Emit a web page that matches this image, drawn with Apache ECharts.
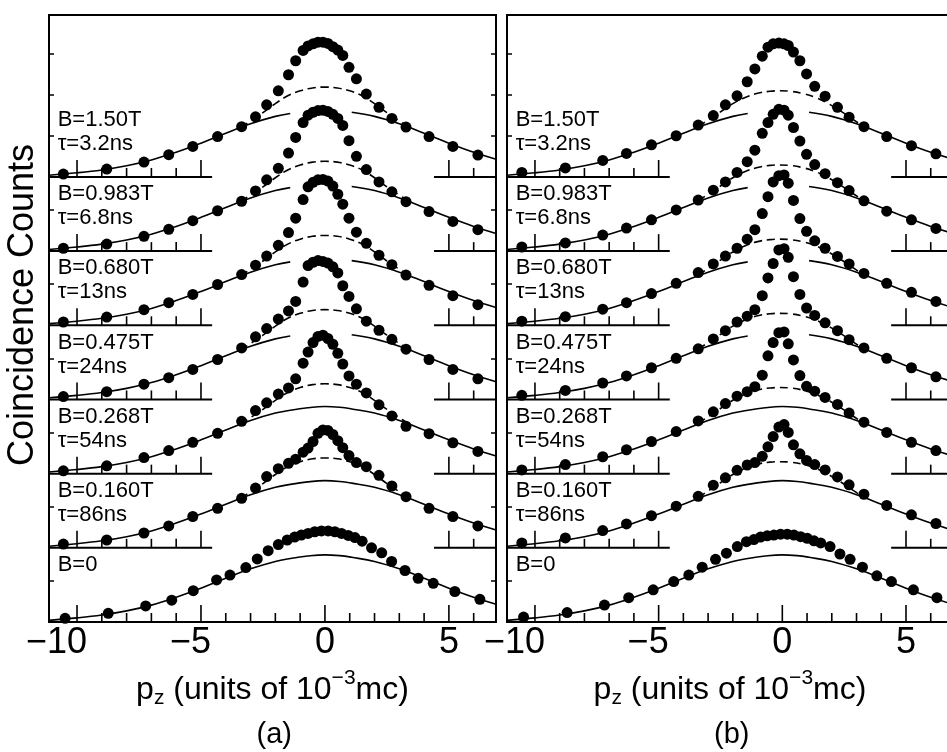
<!DOCTYPE html>
<html>
<head>
<meta charset="utf-8">
<script src="https://cdn.jsdelivr.net/npm/echarts@6/dist/echarts.min.js"></script>
<style>
html, body { margin: 0; padding: 0; background: #fff; }
#chart { width: 947px; height: 752px; }
</style>
</head>
<body>
<div id="chart"></div>
<script>
// curve labels, bottom to top
var fieldLabels = ['B=0', 'B=0.160T', 'B=0.268T', 'B=0.475T', 'B=0.680T', 'B=0.983T', 'B=1.50T'];
var tauLabels = ['', 'τ=86ns', 'τ=54ns', 'τ=24ns', 'τ=13ns', 'τ=6.8ns', 'τ=3.2ns'];

// x tick values (units of 10^-3 mc)
var majorTicks = [-10, -5, 0, 5];
var minorTicks = [-10, -9, -8, -7, -6, -5, -4, -3, -2, -1, 0, 1, 2, 3, 4, 5, 6];
// y ticks on the frame (counts, arb. units)
var yTicks = [1, 2.8, 4.6, 6.4, 8.2, 10, 11.8, 12.8, 13.8];

// panel (a) measured points: pz positions and counts above each curve's own baseline
var xA = [-10.55, -8.8, -7.3, -6.3, -5.33, -4.33, -3.36, -2.8, -2.35, -1.88, -1.47, -1.18, -0.88, -0.68, -0.48, -0.28, -0.08, 0.12, 0.32, 0.52, 0.72, 0.97, 1.27, 1.67, 2.18, 2.7, 3.27, 4.2, 5.16, 6.17];
var xA0 = [-10.48, -8.74, -7.23, -6.18, -5.31, -4.37, -3.83, -3.19, -2.73, -2.29, -1.88, -1.52, -1.22, -0.95, -0.68, -0.41, -0.14, 0.13, 0.4, 0.67, 0.94, 1.21, 1.5, 1.88, 2.29, 2.69, 3.23, 3.76, 4.37, 5.24, 6.25];
var a0 = [0.09, 0.21, 0.39, 0.53, 0.76, 1.02, 1.14, 1.32, 1.53, 1.73, 1.88, 1.99, 2.06, 2.11, 2.15, 2.19, 2.21, 2.21, 2.19, 2.15, 2.1, 2.05, 1.96, 1.8, 1.68, 1.47, 1.25, 1.06, 0.94, 0.74, 0.55];
var a160 = [0.09, 0.19, 0.36, 0.53, 0.76, 0.96, 1.2, 1.45, 1.73, 1.92, 2.05, 2.15, 2.32, 2.42, 2.58, 2.78, 2.86, 2.85, 2.75, 2.6, 2.43, 2.24, 2.07, 1.97, 1.76, 1.5, 1.24, 0.96, 0.76, 0.53];
var a268 = [0.07, 0.19, 0.39, 0.56, 0.76, 0.98, 1.27, 1.53, 1.72, 1.93, 2.08, 2.3, 2.68, 2.95, 3.18, 3.33, 3.36, 3.28, 3.14, 2.92, 2.66, 2.37, 2.17, 1.96, 1.67, 1.4, 1.15, 0.97, 0.75, 0.54];
var a475 = [0.07, 0.19, 0.37, 0.53, 0.73, 0.97, 1.25, 1.52, 1.72, 1.95, 2.15, 2.38, 2.85, 3.25, 3.33, 3.37, 3.35, 3.31, 3.22, 3.07, 2.76, 2.5, 2.2, 1.9, 1.68, 1.46, 1.22, 0.97, 0.73, 0.5];
var a680 = [0.08, 0.2, 0.38, 0.55, 0.75, 0.99, 1.23, 1.46, 1.68, 1.94, 2.25, 2.6, 3.05, 3.36, 3.47, 3.53, 3.54, 3.5, 3.38, 3.18, 2.94, 2.6, 2.26, 1.99, 1.7, 1.47, 1.22, 0.97, 0.72, 0.5];
var a983 = [0.07, 0.17, 0.36, 0.53, 0.74, 0.98, 1.21, 1.46, 1.73, 2.01, 2.38, 2.76, 3.12, 3.3, 3.37, 3.41, 3.42, 3.39, 3.32, 3.22, 3.05, 2.68, 2.3, 1.98, 1.68, 1.44, 1.2, 0.96, 0.72, 0.52];
var a150 = [0.07, 0.19, 0.36, 0.54, 0.74, 0.98, 1.22, 1.46, 1.75, 2.09, 2.48, 2.82, 3.07, 3.18, 3.23, 3.27, 3.27, 3.24, 3.16, 3.08, 2.95, 2.66, 2.38, 2.01, 1.69, 1.42, 1.21, 0.98, 0.74, 0.53];

// panel (b) measured points
var xB = [-10.53, -8.77, -7.26, -6.3, -5.29, -4.29, -3.4, -2.79, -2.3, -1.83, -1.42, -1.11, -0.81, -0.58, -0.37, -0.14, 0.07, 0.24, 0.45, 0.71, 0.98, 1.31, 1.73, 2.23, 2.7, 3.3, 4.22, 5.22, 6.21];
var xB0 = [-10.46, -8.7, -7.19, -6.21, -5.22, -4.39, -3.78, -3.24, -2.7, -2.26, -1.82, -1.45, -1.15, -0.88, -0.61, -0.34, -0.07, 0.2, 0.47, 0.74, 1.01, 1.28, 1.55, 1.93, 2.33, 2.74, 3.24, 3.82, 4.41, 5.3, 6.25];
var b0 = [0.12, 0.23, 0.41, 0.59, 0.78, 0.98, 1.14, 1.33, 1.52, 1.67, 1.83, 1.95, 2.0, 2.06, 2.09, 2.11, 2.13, 2.13, 2.11, 2.07, 2.03, 1.97, 1.92, 1.83, 1.65, 1.52, 1.33, 1.12, 0.98, 0.78, 0.59];
var b160 = [0.12, 0.24, 0.42, 0.58, 0.78, 1.01, 1.25, 1.52, 1.7, 1.88, 2.01, 2.07, 2.22, 2.45, 2.7, 2.93, 2.99, 2.8, 2.5, 2.28, 2.12, 2.02, 1.89, 1.72, 1.53, 1.3, 1.03, 0.8, 0.59];
var b268 = [0.09, 0.22, 0.41, 0.58, 0.78, 1.02, 1.28, 1.5, 1.7, 1.88, 1.99, 2.11, 2.39, 2.86, 3.18, 3.42, 3.44, 3.15, 2.76, 2.38, 2.12, 2.0, 1.85, 1.68, 1.47, 1.25, 1.0, 0.76, 0.56];
var b475 = [0.1, 0.22, 0.4, 0.57, 0.77, 1.0, 1.23, 1.47, 1.67, 1.88, 2.02, 2.18, 2.52, 2.95, 3.3, 3.63, 3.66, 3.45, 2.98, 2.55, 2.22, 2.04, 1.86, 1.67, 1.45, 1.25, 1.0, 0.77, 0.55];
var b680 = [0.1, 0.21, 0.39, 0.55, 0.77, 1.02, 1.28, 1.49, 1.68, 1.87, 2.09, 2.32, 2.71, 3.12, 3.48, 3.63, 3.65, 3.45, 3.03, 2.59, 2.28, 2.05, 1.87, 1.67, 1.49, 1.26, 1.02, 0.8, 0.58];
var b983 = [0.1, 0.2, 0.39, 0.56, 0.76, 1.0, 1.24, 1.48, 1.68, 1.91, 2.17, 2.45, 2.86, 3.12, 3.32, 3.44, 3.42, 3.3, 3.0, 2.67, 2.35, 2.1, 1.88, 1.66, 1.47, 1.22, 0.97, 0.76, 0.55];
var b150 = [0.11, 0.22, 0.4, 0.57, 0.78, 1.0, 1.26, 1.49, 1.75, 1.97, 2.31, 2.62, 2.93, 3.15, 3.23, 3.25, 3.23, 3.19, 3.03, 2.82, 2.5, 2.2, 1.96, 1.69, 1.45, 1.22, 0.98, 0.76, 0.56];

// fitted broad component (solid) and broad+medium component (dashed)
var fitX = [-11.13, -10, -9, -8, -7, -6, -5, -4, -3, -2, -1.4, -0.7, 0, 0.6, 1.08, 2, 3, 4, 5, 6, 6.9];
var broadFit = [0.04, 0.1, 0.17, 0.27, 0.41, 0.6, 0.82, 1.06, 1.29, 1.47, 1.54, 1.6, 1.63, 1.61, 1.57, 1.47, 1.29, 1.06, 0.82, 0.6, 0.43];
var dashXA = [-3.4, -3.0, -2.5, -2.0, -1.5, -1.0, -0.5, 0, 0.5, 1.0, 1.5, 2.0, 2.5, 3.0, 3.4];
var dashA = [1.2, 1.36, 1.56, 1.78, 1.97, 2.09, 2.16, 2.18, 2.16, 2.09, 1.97, 1.78, 1.56, 1.36, 1.2];
var dashXB = [-3.4, -3.0, -2.5, -2.0, -1.5, -1.0, -0.5, -0.1, 0.3, 0.8, 1.3, 1.8, 2.3, 2.8, 3.2];
var dashB = [1.22, 1.38, 1.58, 1.78, 1.93, 2.03, 2.08, 2.09, 2.08, 2.03, 1.94, 1.8, 1.62, 1.42, 1.26];

var FONT = '"Liberation Sans", Arial, Helvetica, sans-serif';
var INK = '#000';
var xMin = -11.13, xMax = 6.9, yMax = 14.73;
var step = 1.8;            // vertical offset between curves
var gapLo = -1.4, gapHi = 1.08;   // solid line is interrupted here for the upper curves
var innerLeftEnd = -4.55, innerRightStart = 4.4;

var chart = echarts.init(document.getElementById('chart'));

var panels = [
    { left: 49, width: 447, xs: xA, xs0: xA0, dots: [a0, a160, a268, a475, a680, a983, a150], dashX: dashXA, dash: dashA, tag: '(a)', rightAxis: true },
    { left: 507, width: 446, xs: xB, xs0: xB0, dots: [b0, b160, b268, b475, b680, b983, b150], dashX: dashXB, dash: dashB, tag: '(b)', rightAxis: false }
];

var grids = [], xAxes = [], yAxes = [], series = [], graphics = [];

function broadData(off, gap) {
    var d = [];
    fitX.forEach(function (x, i) {
        if (gap && x > gapLo && x < gapHi) return;
        d.push([x, broadFit[i] + off]);
        if (gap && x === gapLo) d.push([(gapLo + gapHi) / 2, '-']);
    });
    return d;
}

panels.forEach(function (p, pi) {
    grids.push({
        left: p.left, top: 15, width: p.width, height: 607,
        show: true, borderColor: INK, borderWidth: 2, backgroundColor: 'transparent',
        containLabel: false, outerBoundsMode: 'none'
    });
    xAxes.push({
        type: 'value', gridIndex: pi, min: xMin, max: xMax,
        axisLine: { show: false, onZero: false }, axisTick: { show: false }, splitLine: { show: false },
        axisLabel: {
            customValues: majorTicks, margin: 3,
            formatter: function (v) {
                var s = (v < 0 ? '\u2212' : '') + Math.abs(v);
                return '{p' + (s.length - 1) + '|' + s + '}';
            },
            rich: {
                p0: { fontSize: 36, fontFamily: FONT, color: INK, padding: [0, 0, 0, 0] },
                p1: { fontSize: 36, fontFamily: FONT, color: INK, padding: [0, 21, 0, 0] },
                p2: { fontSize: 36, fontFamily: FONT, color: INK, padding: [0, 41, 0, 0] }
            }
        },
        name: '{t|p}{s|z}{t| (units of 10}{u|\u22123}{t|mc)}',
        nameLocation: 'middle', nameGap: 46,
        nameTextStyle: {
            rich: {
                t: { fontSize: 32, fontFamily: FONT, color: INK, lineHeight: 44 },
                s: { fontSize: 21, fontFamily: FONT, color: INK, verticalAlign: 'bottom', padding: [0, 0, 3, 0] },
                u: { fontSize: 21, fontFamily: FONT, color: INK, verticalAlign: 'top' }
            }
        }
    });
    var tickStyle = { show: true, inside: true, length: 5, customValues: yTicks, lineStyle: { color: INK, width: 1.5 } };
    yAxes.push({
        type: 'value', gridIndex: pi, min: 0, max: yMax, position: 'left',
        axisLine: { show: false, onZero: false }, axisLabel: { show: false }, splitLine: { show: false },
        axisTick: tickStyle
    });
    yAxes.push({
        type: 'value', gridIndex: pi, min: 0, max: yMax, position: 'right',
        axisLine: { show: false, onZero: false }, axisLabel: { show: false }, splitLine: { show: false },
        axisTick: Object.assign({}, tickStyle, { show: p.rightAxis })
    });
    var yi = pi * 2;

    var dotData = [];
    var labelData = [];
    p.dots.forEach(function (vals, k) {
        var off = k * step;
        var xs = k === 0 ? p.xs0 : p.xs;
        xs.forEach(function (x, i) { dotData.push([x, vals[i] + off]); });

        series.push({
            type: 'line', xAxisIndex: pi, yAxisIndex: yi, z: 2, silent: true,
            showSymbol: false, symbol: 'none', smooth: 0.4, connectNulls: false,
            lineStyle: { color: INK, width: 1.6, opacity: 1 },
            data: broadData(off, k >= 3)
        });
        if (k > 0) {
            series.push({
                type: 'line', xAxisIndex: pi, yAxisIndex: yi, z: 2, silent: true,
                showSymbol: false, symbol: 'none', smooth: 0.4,
                lineStyle: { color: INK, width: 1.6, opacity: 1, type: [8, 5] },
                data: p.dashX.map(function (x, i) { return [x, p.dash[i] + off]; })
            });
        }
        labelData.push({ name: fieldLabels[k], value: [-10.8, off + 1.38] });
        if (tauLabels[k]) labelData.push({ name: tauLabels[k], value: [-10.8, off + 0.8] });
    });

    series.push({
        type: 'scatter', xAxisIndex: pi, yAxisIndex: yi, z: 3, silent: true,
        symbol: 'circle', symbolSize: 11, itemStyle: { color: INK, opacity: 1 },
        data: dotData
    });

    // per-curve baselines with their partial tick rows
    series.push({
        type: 'custom', xAxisIndex: pi, yAxisIndex: yi, z: 2, silent: true,
        encode: { x: 0, y: 1 },
        data: p.dots.map(function (v, k) { return [xMin, k * step, k]; }),
        renderItem: function (params, api) {
            var y = api.value(1), k = api.value(2);
            var segs = k === 0 ? [[xMin, xMax]] : [[xMin, innerLeftEnd], [innerRightStart, xMax]];
            var children = [];
            segs.forEach(function (s) {
                var p1 = api.coord([s[0], y]), p2 = api.coord([s[1], y]);
                children.push({ type: 'line', shape: { x1: p1[0], y1: p1[1], x2: p2[0], y2: p2[1] }, style: { stroke: INK, lineWidth: 2 } });
                minorTicks.forEach(function (t) {
                    if (t < s[0] || t > s[1]) return;
                    var c = api.coord([t, y]);
                    var len = majorTicks.indexOf(t) >= 0 ? 17 : 9;
                    children.push({ type: 'line', shape: { x1: c[0], y1: c[1], x2: c[0], y2: c[1] - len }, style: { stroke: INK, lineWidth: 1.6 } });
                });
            });
            return { type: 'group', children: children };
        }
    });

    series.push({
        type: 'scatter', xAxisIndex: pi, yAxisIndex: yi, z: 5, silent: true,
        symbol: 'circle', symbolSize: 1, itemStyle: { color: 'rgba(0,0,0,0)', opacity: 1 },
        label: { show: true, position: 'right', distance: 0, formatter: '{b}', fontSize: 22, fontFamily: FONT, color: INK, opacity: 1 },
        data: labelData
    });

    graphics.push({
        type: 'text', left: p.left + p.width / 2 - 16, top: 720,
        style: { text: p.tag, fontSize: 29, fontFamily: FONT, fill: INK }
    });
});

graphics.push({
    type: 'text', x: 23, y: 305, rotation: Math.PI / 2,
    style: { text: 'Coincidence Counts', fontSize: 36, fontFamily: FONT, fill: INK, align: 'center', verticalAlign: 'middle' }
});

chart.setOption({
    animation: false,
    backgroundColor: '#fff',
    grid: grids,
    xAxis: xAxes,
    yAxis: yAxes,
    series: series,
    graphic: graphics
});
</script>
</body>
</html>
